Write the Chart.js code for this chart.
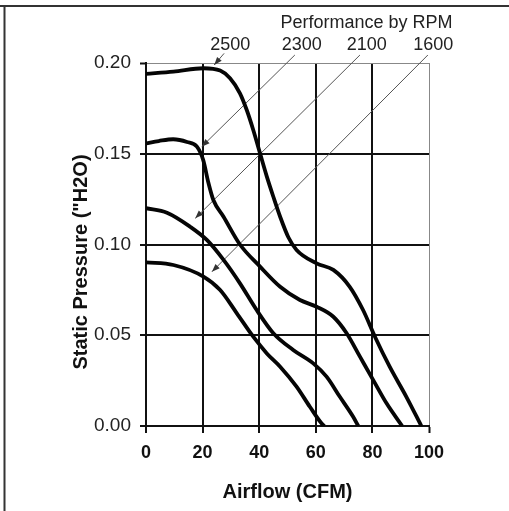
<!DOCTYPE html>
<html><head><meta charset="utf-8">
<script src="https://cdn.jsdelivr.net/npm/chart.js@4.4.1/dist/chart.umd.min.js"></script>
<style>html,body{margin:0;padding:0;background:#fff;overflow:hidden}</style>
</head><body>
<canvas id="c" width="509" height="511"></canvas>
<script>
// ---- data ----
const rpmLabels = ['2500', '2300', '2100', '1600'];

const airflow2500  = [0, 9.7, 20.3, 26.2, 29.7, 33.2, 35.6, 37.9, 40.3, 42.7, 45, 47.4, 50.3, 53.2, 60.3, 66.2, 72, 76.7, 80.9, 86.1, 92, 97.3];
const pressure2500 = [0.194, 0.1952, 0.1971, 0.1958, 0.1916, 0.1833, 0.1741, 0.1631, 0.1502, 0.1374, 0.1263, 0.1153, 0.104, 0.097, 0.0896, 0.086, 0.0767, 0.0639, 0.0492, 0.0327, 0.0161, 0];

const airflow2300  = [0, 4.5, 9.6, 14.5, 18, 20.2, 22.1, 23.8, 27.4, 33.2, 40.3, 47.4, 54.4, 60.3, 66.2, 70.9, 75.6, 80.3, 85, 90.5];
const pressure2300 = [0.1557, 0.157, 0.158, 0.1565, 0.1539, 0.1466, 0.1337, 0.1245, 0.1153, 0.1, 0.0878, 0.0767, 0.0694, 0.0657, 0.0602, 0.0511, 0.0382, 0.0253, 0.0125, 0];

const airflow2100  = [0, 7.4, 15.6, 21.5, 27.4, 33.2, 39.1, 45, 52, 59.1, 63.8, 68.5, 73.2, 75];
const pressure2100 = [0.12, 0.1175, 0.1098, 0.1025, 0.0915, 0.0786, 0.0639, 0.0511, 0.0419, 0.0345, 0.0272, 0.0161, 0.0051, 0];

const airflow1600  = [0, 9.7, 20.3, 26.2, 32.1, 37.9, 42.7, 47.4, 53.2, 57.9, 62, 63];
const pressure1600 = [0.0902, 0.0887, 0.0823, 0.0749, 0.0621, 0.0492, 0.04, 0.0327, 0.0217, 0.0106, 0.0015, 0];

const xTickValues = [0, 20, 40, 60, 80, 100];
const yTickValues = [0, 0.05, 0.10, 0.15, 0.20];

// leader lines from the RPM labels to the curves (airflow, pressure)
const leaderFrom = [[27.6, 0.2053], [52.6, 0.2044], [75.6, 0.2044], [99.6, 0.2044]];
const leaderTo   = [[24.1, 0.1989], [19.7, 0.1539], [17.4, 0.1144], [23.3, 0.085]];

const legendTitle = 'Performance by RPM';
const xTitle = 'Airflow (CFM)';
const yTitle = 'Static Pressure ("H2O)';

// ---- chart ----
const FONT = '"Liberation Sans", Arial, Helvetica, sans-serif';
const curves = [[airflow2500, pressure2500], [airflow2300, pressure2300], [airflow2100, pressure2100], [airflow1600, pressure1600]];

const datasets = curves.map((c, i) => ({
  label: rpmLabels[i] + ' RPM',
  data: c[0].map((x, k) => ({x: x, y: c[1][k]})),
  borderColor: '#050505',
  borderWidth: 3.8,
  pointRadius: 0,
  cubicInterpolationMode: 'monotone',
  fill: false
}));
leaderFrom.forEach((p, i) => {
  datasets.push({
    label: 'leader ' + rpmLabels[i],
    leader: true,
    data: [{x: p[0], y: p[1]}, {x: leaderTo[i][0], y: leaderTo[i][1]}],
    borderColor: '#555',
    borderWidth: 1,
    pointRadius: 0,
    clip: false,
    fill: false
  });
});

const labelPos = { rpmY: 0.2072, rpmX: [29.8, 55, 78, 101.5], titleY: 0.2191, titleRight: 108.3 };

const decor = {
  id: 'decor',
  beforeDraw(chart) {
    const ctx = chart.ctx;
    ctx.save();
    ctx.fillStyle = '#fff';
    ctx.fillRect(0, 0, chart.width, chart.height);
    ctx.strokeStyle = '#333';
    ctx.lineWidth = 2;
    ctx.beginPath();
    ctx.moveTo(0, 6); ctx.lineTo(chart.width, 6);
    ctx.moveTo(4.5, 5); ctx.lineTo(4.5, chart.height);
    ctx.stroke();
    ctx.restore();
  },
  afterDatasetsDraw(chart) {
    const ctx = chart.ctx;
    const xs = chart.scales.x, ys = chart.scales.y;
    ctx.save();
    // arrowheads
    chart.data.datasets.forEach((ds, i) => {
      if (!ds.leader) return;
      const a = ds.data[0], b = ds.data[1];
      const x0 = xs.getPixelForValue(a.x), y0 = ys.getPixelForValue(a.y);
      const x1 = xs.getPixelForValue(b.x), y1 = ys.getPixelForValue(b.y);
      const ang = Math.atan2(y1 - y0, x1 - x0);
      const L = 8, W = 3;
      ctx.fillStyle = '#333';
      ctx.beginPath();
      ctx.moveTo(x1, y1);
      ctx.lineTo(x1 - L * Math.cos(ang) + W * Math.sin(ang), y1 - L * Math.sin(ang) - W * Math.cos(ang));
      ctx.lineTo(x1 - L * Math.cos(ang) - W * Math.sin(ang), y1 - L * Math.sin(ang) + W * Math.cos(ang));
      ctx.closePath();
      ctx.fill();
    });
    // annotation texts
    ctx.fillStyle = '#222';
    ctx.font = '18px ' + FONT;
    ctx.textBaseline = 'alphabetic';
    ctx.textAlign = 'right';
    ctx.fillText(legendTitle, xs.getPixelForValue(labelPos.titleRight), ys.getPixelForValue(labelPos.titleY));
    ctx.textAlign = 'center';
    rpmLabels.forEach((t, i) => {
      ctx.fillText(t, xs.getPixelForValue(labelPos.rpmX[i]), ys.getPixelForValue(labelPos.rpmY));
    });
    // y axis title
    ctx.translate(81, 262);
    ctx.rotate(-Math.PI / 2);
    ctx.font = 'bold 20px ' + FONT;
    ctx.fillStyle = '#111';
    ctx.textAlign = 'center';
    ctx.textBaseline = 'middle';
    ctx.fillText(yTitle, 0, 0);
    ctx.restore();
  }
};

new Chart(document.getElementById('c'), {
  type: 'line',
  data: { datasets },
  options: {
    responsive: false,
    animation: false,
    devicePixelRatio: 1,
    layout: { padding: { left: 0, top: 63, right: 80, bottom: 0 } },
    plugins: { legend: { display: false }, tooltip: { enabled: false } },
    scales: {
      x: {
        type: 'linear', min: 0, max: 100,
        afterBuildTicks(s) { s.ticks = xTickValues.map(v => ({value: v})); },
        afterFit(s) { s.height = 85; },
        border: { display: true, color: '#111', width: 2 },
        grid: {
          color: c => (c.tick && c.tick.value >= 100) ? '#888' : '#111',
          lineWidth: c => (c.tick && c.tick.value >= 100) ? 1 : 2,
          tickColor: '#111', tickWidth: 2, tickLength: 7, drawTicks: true
        },
        ticks: { color: '#111', font: { family: FONT, size: 18, weight: 'bold' }, padding: 9, maxRotation: 0 },
        title: { display: true, text: xTitle, color: '#111', font: { family: FONT, size: 20, weight: 'bold' }, padding: { top: 0, bottom: 7 } }
      },
      y: {
        type: 'linear', min: 0, max: 0.2,
        afterBuildTicks(s) { s.ticks = yTickValues.map(v => ({value: v})); },
        afterFit(s) { s.width = 146; },
        border: { display: true, color: '#111', width: 2 },
        grid: {
          color: c => (c.tick && c.tick.value >= 0.199) ? '#888' : '#111',
          lineWidth: c => (c.tick && c.tick.value >= 0.199) ? 1 : 2,
          tickColor: '#111', tickWidth: 2, tickLength: 6, drawTicks: true
        },
        ticks: { color: '#222', font: { family: FONT, size: 19 }, padding: 9, callback: v => Number(v).toFixed(2) }
      }
    }
  },
  plugins: [decor]
});
</script>
</body></html>
